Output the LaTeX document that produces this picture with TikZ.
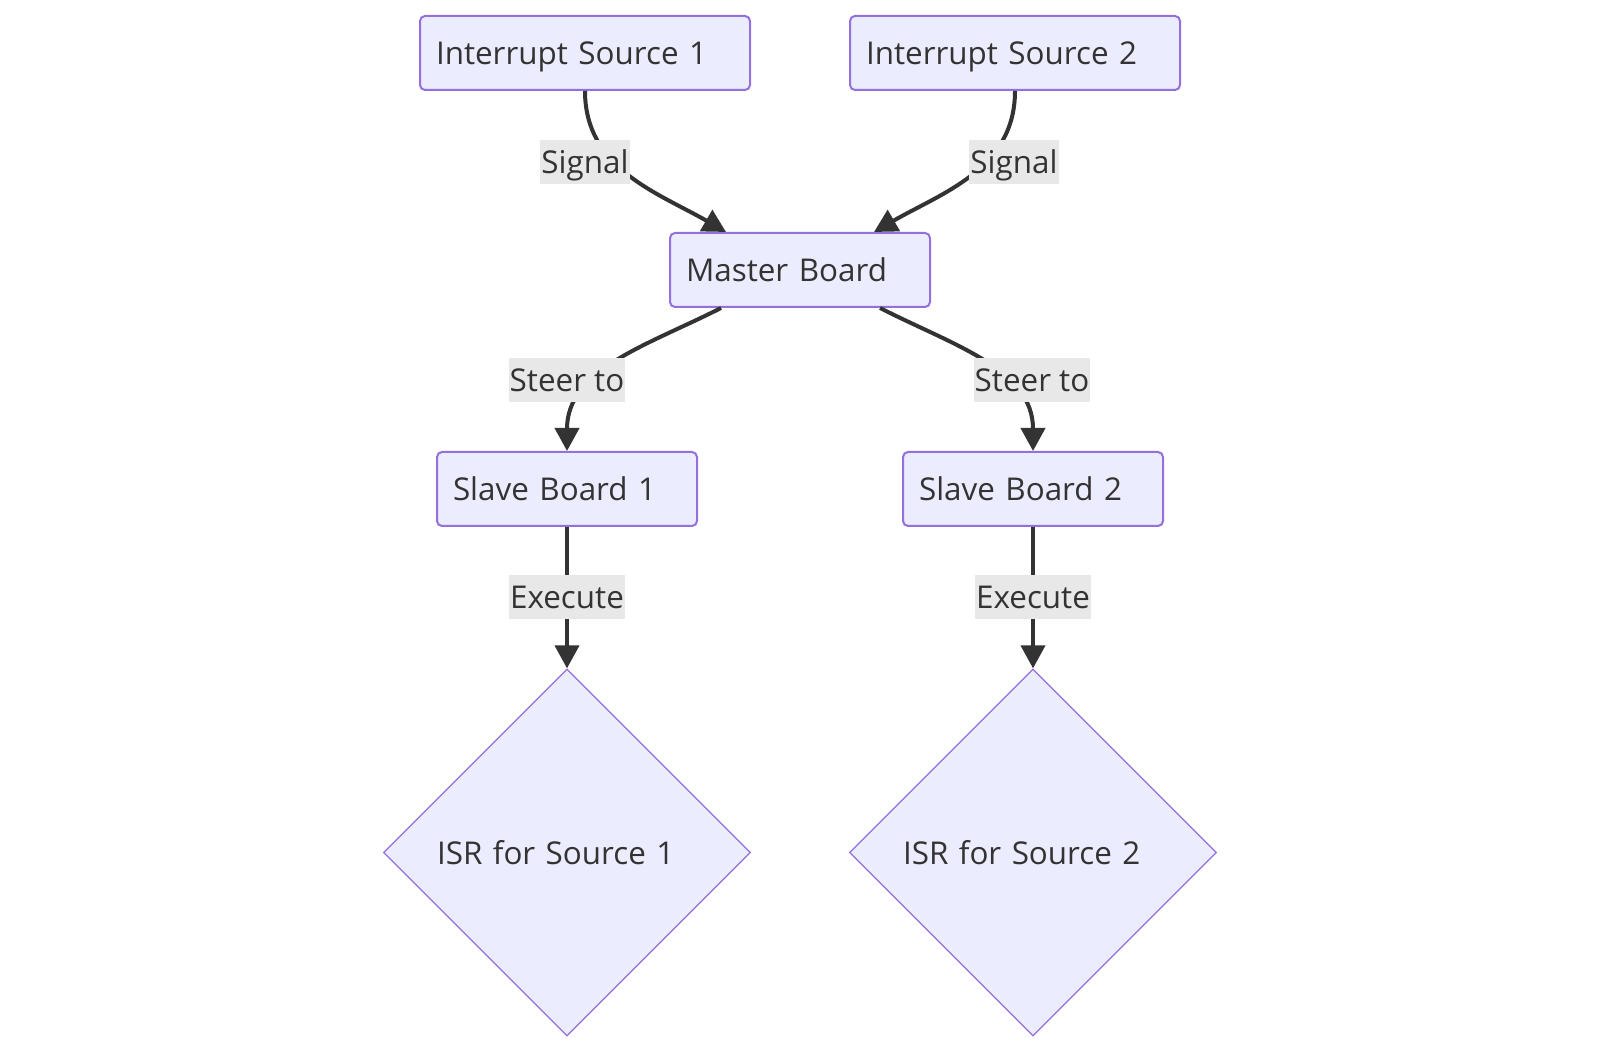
\documentclass[tikz,border=0pt]{standalone}
\usepackage{fontspec}
\setmainfont{Open Sans}
\usetikzlibrary{shapes.geometric,arrows.meta}
\definecolor{boxfill}{HTML}{ECECFF}
\definecolor{boxline}{HTML}{9370DB}
\definecolor{ink}{HTML}{333333}
\definecolor{lblfill}{HTML}{E8E8E8}

\begin{document}
\begin{tikzpicture}[x=0.5pt,y=0.5pt,
    box/.style={rectangle, rounded corners=2.5pt, draw=boxline, fill=boxfill, line width=1pt, text=ink, align=left, inner xsep=8pt, minimum height=37pt, text height=11.5pt, text depth=0pt, font=\fontsize{15.7}{19}\selectfont},
    isr/.style={diamond, draw=boxline, fill=boxfill, line width=0.6pt, text=ink, align=left, text width=130pt, inner sep=0pt, minimum width=183.5pt, minimum height=183.5pt, text height=11.5pt, text depth=0pt, font=\fontsize{15.7}{19}\selectfont},
    lbl/.style={fill=lblfill, text=ink, inner xsep=0.5pt, inner ysep=0pt, minimum height=22pt, text height=11.5pt, text depth=0pt, font=\fontsize{15.7}{19}\selectfont},
    edge/.style={draw=ink, line width=2pt, -{Triangle[length=11.5pt,width=12pt]}}]
    \useasboundingbox (0,0) rectangle (1600,-1052);

    \node[box, text width=149pt] (is1) at (585,-53) {Interrupt Source 1};
    \node[box, text width=149pt] (is2) at (1015,-53) {Interrupt Source 2};
    \node[box, text width=114pt] (mb) at (800,-270) {Master Board};
    \node[box, text width=114pt] (sb1) at (567,-489) {Slave Board 1};
    \node[box, text width=114pt] (sb2) at (1033,-489) {Slave Board 2};
    \node[isr] (isr1) at (567,-852.5) {ISR for Source 1};
    \node[isr] (isr2) at (1033,-852.5) {ISR for Source 2};

    \draw[edge] (is1.south) to[out=-90,in=150] ([xshift=-37pt]mb.north);
    \draw[edge] (is2.south) to[out=-90,in=30] ([xshift=37pt]mb.north);
    \draw[edge] ([xshift=-39.5pt]mb.south) to[out=207,in=90] (sb1.north);
    \draw[edge] ([xshift=40pt]mb.south) to[out=-27,in=90] (sb2.north);
    \draw[edge] (sb1) -- (isr1);
    \draw[edge] (sb2) -- (isr2);

    \node[lbl] (sig1) at (585,-162) {Signal};
    \node[lbl] (sig2) at (1014,-162) {Signal};
    \node[lbl] (st1) at (567,-380) {Steer to};
    \node[lbl] (st2) at (1032,-380) {Steer to};
    \node[lbl] (ex1) at (567,-597) {Execute};
    \node[lbl] (ex2) at (1033,-597) {Execute};
\end{tikzpicture}
\end{document}
